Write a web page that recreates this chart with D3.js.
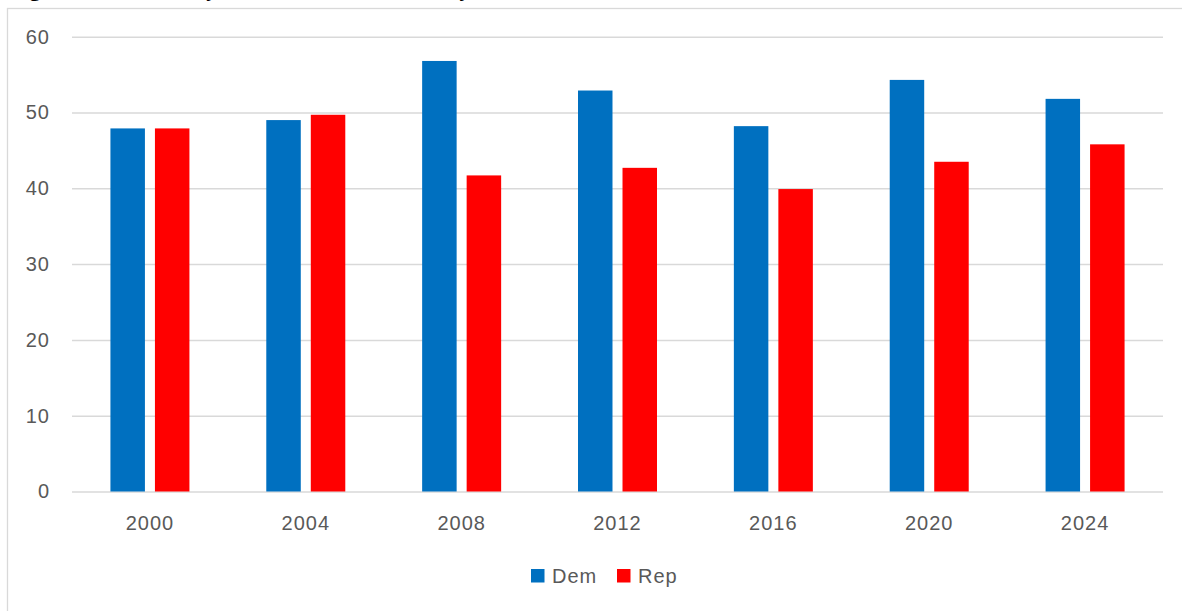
<!DOCTYPE html>
<html>
<head>
<meta charset="utf-8">
<script src="https://cdn.jsdelivr.net/npm/d3@7"></script>
<style>
  html, body { margin: 0; padding: 0; background: #fff; }
  svg { display: block; }
</style>
</head>
<body>
<svg id="chart" width="1182" height="611"></svg>
<script>
// Election years and party vote share (%)
const years = ["2000", "2004", "2008", "2012", "2016", "2020", "2024"];
const parties = ["Dem", "Rep"];
const demShare = [47.9, 49.0, 56.8, 52.9, 48.2, 54.3, 51.8];
const repShare = [47.9, 49.7, 41.7, 42.7, 39.9, 43.5, 45.8];
const yTicks = [0, 10, 20, 30, 40, 50, 60];
const colors = { Dem: "#0070C0", Rep: "#FF0000" };

const rows = years.map((y, i) => ({ year: y, Dem: demShare[i], Rep: repShare[i] }));

const svg = d3.select("#chart");
const W = 1182, H = 611;
const plot = { left: 72, right: 1163, top: 36.7, bottom: 491.5 };
const font = "'Liberation Sans', Arial, sans-serif";
const textColor = "#595959";

// Figure caption above the chart frame (runs off the top of the page)
svg.append("text")
  .attr("x", 10).attr("y", -4)
  .attr("font-family", "'Liberation Serif', 'Times New Roman', serif")
  .attr("font-weight", "bold")
  .attr("font-size", 22)
  .attr("fill", "#000")
  .text("Figure 4.1: Two-Party Presidential Vote Share by Year, 2000\u20132024");

// Chart frame
svg.append("rect")
  .attr("x", 7.5).attr("y", 8.5)
  .attr("width", W + 10).attr("height", H + 10)
  .attr("fill", "#fff")
  .attr("stroke", "#d9d9d9")
  .attr("stroke-width", 1.3);

const y = d3.scaleLinear().domain([0, 60]).range([plot.bottom, plot.top]);

const groupW = 79;
const step = (plot.right - plot.left) / years.length;
const pad = 1 - groupW / step;
const x0 = d3.scaleBand().domain(years).range([plot.left, plot.right])
  .paddingInner(pad).paddingOuter(pad / 2);
const x1 = d3.scaleBand().domain(parties).range([0, x0.bandwidth()])
  .paddingInner(0.225).paddingOuter(0);

// Gridlines and value labels
const yAxis = d3.axisLeft(y).tickValues(yTicks)
  .tickSize(-(plot.right - plot.left)).tickPadding(22);
const gy = svg.append("g")
  .attr("transform", `translate(${plot.left},0)`)
  .call(yAxis);
gy.select(".domain").remove();
gy.selectAll(".tick line").attr("stroke", "#d9d9d9").attr("stroke-width", 1.5);
gy.selectAll(".tick text")
  .attr("font-family", font).attr("font-size", 20)
  .attr("letter-spacing", 1)
  .attr("fill", textColor);

// Bars
const groups = svg.append("g").selectAll("g")
  .data(rows).join("g")
  .attr("transform", d => `translate(${x0(d.year)},0)`);
groups.selectAll("rect")
  .data(d => parties.map(p => ({ party: p, value: d[p] })))
  .join("rect")
  .attr("x", d => x1(d.party))
  .attr("y", d => y(d.value))
  .attr("width", x1.bandwidth())
  .attr("height", d => y(0) - y(d.value))
  .attr("fill", d => colors[d.party]);

// Category axis labels
const xAxis = d3.axisBottom(x0).tickSize(0).tickPadding(24);
const gx = svg.append("g")
  .attr("transform", `translate(0,${plot.bottom})`)
  .call(xAxis);
gx.select(".domain").remove();
gx.selectAll(".tick text")
  .attr("font-family", font).attr("font-size", 20)
  .attr("letter-spacing", 1)
  .attr("fill", textColor);

// Legend
const legend = svg.append("g").attr("transform", "translate(531,569)");
const legendX = { Dem: 0, Rep: 86 };
parties.forEach(p => {
  const g = legend.append("g").attr("transform", `translate(${legendX[p]},0)`);
  g.append("rect").attr("width", 13.5).attr("height", 13.5).attr("fill", colors[p]);
  g.append("text")
    .attr("x", 21).attr("y", 7).attr("dy", "0.35em")
    .attr("font-family", font).attr("font-size", 20)
    .attr("letter-spacing", 1)
    .attr("fill", textColor)
    .text(p);
});
</script>
</body>
</html>
